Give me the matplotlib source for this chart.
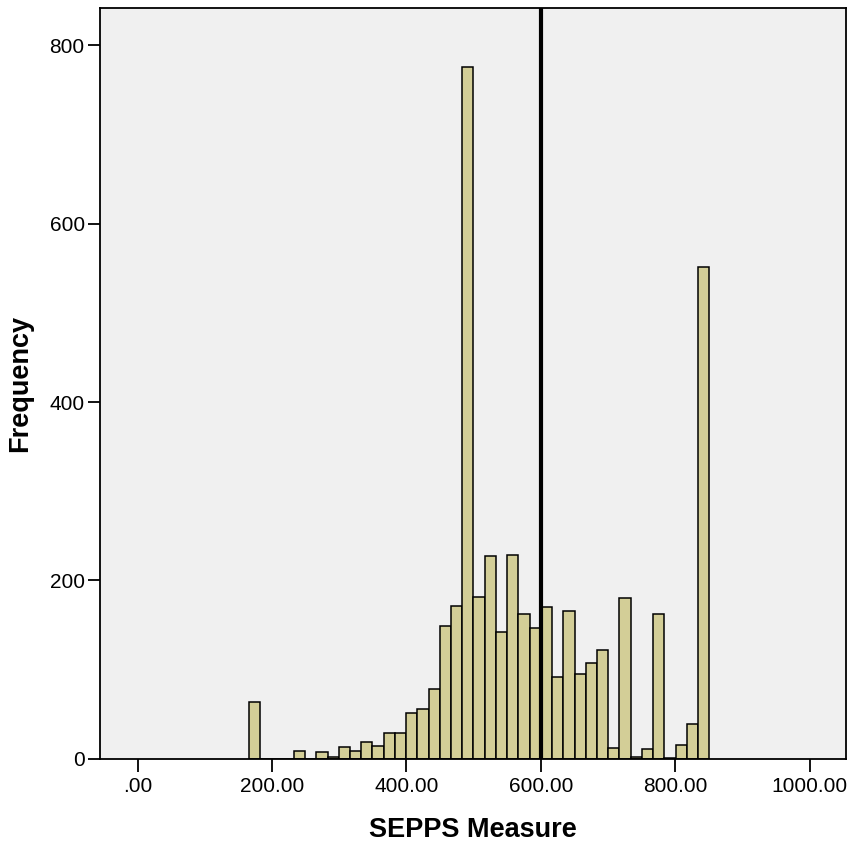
import numpy as np
import matplotlib
matplotlib.use("Agg")
import matplotlib.pyplot as plt

# histogram of SEPPS Measure, bins
bin_start = 165.7
bin_width = 16.71
counts = [64, 0, 0, 0, 9, 0, 8, 2, 13, 9,
          19, 15, 29, 29, 51, 56, 78, 149, 171, 775,
          181, 228, 142, 229, 162, 147, 170, 92, 166, 95,
          108, 122, 12, 180, 2, 11, 163, 1, 16, 39,
          551]
mean_value = 600.0

x_ticks = [0, 200, 400, 600, 800, 1000]
x_tick_labels = [".00", "200.00", "400.00", "600.00", "800.00", "1000.00"]
y_ticks = [0, 200, 400, 600, 800]

plt.rcParams['font.family'] = ['Liberation Sans', 'DejaVu Sans']

fig = plt.figure(figsize=(8.48, 8.42), dpi=100)
ax = fig.add_axes([0.1179, 0.0986, 0.8803, 0.8919])
ax.set_facecolor("#F0F0F0")

edges = bin_start + bin_width * np.arange(len(counts) + 1)
ax.bar(edges[:-1], counts, width=np.diff(edges), align="edge",
       color="#D3CE97", edgecolor="black", linewidth=1.1, zorder=2)

# mean line
ax.axvline(mean_value, color="black", linewidth=3.0, zorder=3)

ax.set_xlim(-56, 1055)
ax.set_ylim(0, 841.5)

ax.set_xticks(x_ticks)
ax.set_xticklabels(x_tick_labels)
ax.set_yticks(y_ticks)
ax.set_yticklabels([str(v) for v in y_ticks])

ax.tick_params(axis="both", direction="out", length=9, width=1.3,
               labelsize=15, colors="black")
ax.tick_params(axis="x", pad=4)
ax.tick_params(axis="y", pad=2)

for s in ax.spines.values():
    s.set_linewidth(1.3)
    s.set_color("black")

ax.set_xlabel("SEPPS Measure", fontsize=19.5, fontweight="bold", labelpad=15)
ax.set_ylabel("Frequency", fontsize=19.5, fontweight="bold", labelpad=12)

fig.savefig("out.png", dpi=100, facecolor="white")
